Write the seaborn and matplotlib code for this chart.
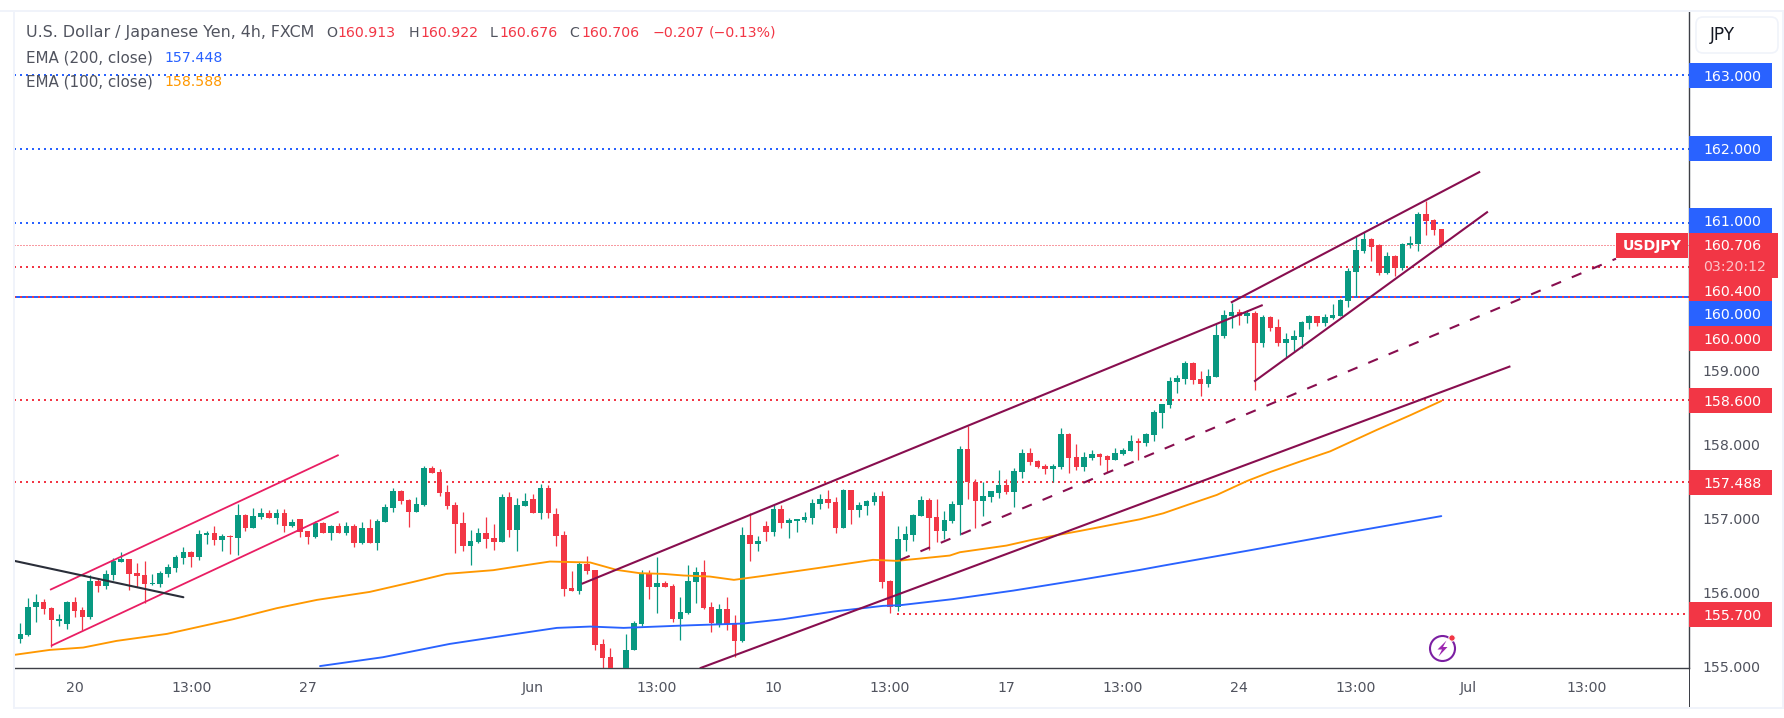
import numpy as np
import pandas as pd
import matplotlib
matplotlib.use("Agg")
import matplotlib.pyplot as plt
from matplotlib.patches import Rectangle, FancyBboxPatch, Circle, Polygon
import seaborn as sns

# ==================================================
# 1. DATA
# ==================================================
opens = [
    155.256, 155.373, 155.423, 155.793, 155.869, 155.788, 155.612, 155.576, 155.869, 155.761,
    155.666, 156.153, 156.09, 156.239, 156.415, 156.447, 156.257, 156.23, 156.117, 156.117,
    156.253, 156.334, 156.469, 156.541, 156.483, 156.78, 156.798, 156.713, 156.767, 156.74,
    157.042, 156.875, 157.019, 157.069, 157.01, 157.069, 156.902, 156.988, 156.83, 156.753,
    156.934, 156.807, 156.898, 156.807, 156.898, 156.672, 156.871, 156.672, 156.956, 157.146,
    157.367, 157.245, 157.092, 157.182, 157.682, 157.628, 157.358, 157.182, 156.934, 156.632,
    156.681, 156.798, 156.731, 156.686, 157.29, 156.848, 157.173, 157.263, 157.078, 157.412,
    157.06, 156.776, 156.059, 156.023, 156.383, 156.302, 155.301, 155.125, 154.814, 154.904,
    155.211, 155.576, 156.248, 156.072, 156.126, 156.086, 155.639, 155.725, 156.14, 156.275,
    155.802, 155.576, 155.775, 155.572, 155.342, 156.776, 156.654, 156.898, 156.816, 157.128,
    156.938, 156.965, 156.979, 157.006, 157.195, 157.263, 157.222, 156.871, 157.385, 157.114,
    157.168, 157.222, 157.304, 156.153, 155.802, 156.708, 156.776, 157.033, 157.249, 157.019,
    156.83, 156.965, 157.182, 157.939, 157.497, 157.24, 157.294, 157.349, 157.452, 157.362,
    157.633, 157.885, 157.777, 157.709, 157.669, 157.696, 158.142, 157.831, 157.696, 157.818,
    157.872, 157.845, 157.791, 157.872, 157.912, 158.048, 158.021, 158.129, 158.427, 158.535,
    158.846, 158.887, 159.103, 158.887, 158.819, 158.914, 159.469, 159.739, 159.794, 159.739,
    159.78, 159.374, 159.726, 159.591, 159.374, 159.415, 159.455, 159.645, 159.739, 159.645,
    159.712, 159.739, 159.942, 160.335, 160.619, 160.781, 160.696, 160.321, 160.551, 160.389,
    160.70, 160.714, 161.12, 161.038, 160.913,
]
closes = [
    155.378, 155.436, 155.802, 155.869, 155.775, 155.617, 155.639, 155.869, 155.752, 155.671,
    156.153, 156.086, 156.248, 156.424, 156.447, 156.253, 156.226, 156.117, 156.126, 156.257,
    156.338, 156.474, 156.541, 156.483, 156.789, 156.798, 156.713, 156.758, 156.753, 157.046,
    156.875, 157.033, 157.069, 157.01, 157.069, 156.902, 156.947, 156.821, 156.753, 156.938,
    156.807, 156.898, 156.807, 156.898, 156.672, 156.871, 156.672, 156.961, 157.155, 157.371,
    157.24, 157.092, 157.195, 157.682, 157.615, 157.349, 157.173, 156.929, 156.632, 156.69,
    156.798, 156.726, 156.686, 157.29, 156.848, 157.182, 157.236, 157.074, 157.412, 157.069,
    156.767, 156.05, 156.023, 156.383, 156.293, 155.292, 155.116, 154.904, 154.927, 155.22,
    155.581, 156.248, 156.072, 156.126, 156.072, 155.639, 155.734, 156.153, 156.275, 155.788,
    155.585, 155.775, 155.563, 155.342, 156.776, 156.659, 156.695, 156.816, 157.128, 156.938,
    156.979, 156.992, 157.019, 157.209, 157.263, 157.209, 156.871, 157.385, 157.114, 157.182,
    157.236, 157.304, 156.144, 155.793, 156.722, 156.789, 157.046, 157.249, 157.006, 156.83,
    156.979, 157.195, 157.939, 157.488, 157.24, 157.304, 157.371, 157.452, 157.358, 157.642,
    157.885, 157.764, 157.696, 157.669, 157.709, 158.142, 157.818, 157.696, 157.831, 157.872,
    157.831, 157.791, 157.885, 157.926, 158.048, 158.025, 158.142, 158.44, 158.548, 158.859,
    158.9, 159.103, 158.873, 158.819, 158.927, 159.482, 159.753, 159.794, 159.739, 159.78,
    159.374, 159.726, 159.577, 159.374, 159.428, 159.469, 159.658, 159.739, 159.645, 159.726,
    159.753, 159.956, 160.348, 160.632, 160.781, 160.673, 160.321, 160.551, 160.389, 160.714,
    160.727, 161.12, 161.025, 160.903, 160.706,
]
highs = [
    155.378, 155.581, 155.923, 155.978, 155.91, 155.797, 155.707, 155.883, 155.937, 155.802,
    156.23, 156.19, 156.302, 156.46, 156.546, 156.451, 156.392, 156.42, 156.244, 156.284,
    156.379, 156.501, 156.609, 156.555, 156.843, 156.825, 156.898, 156.785, 156.776, 157.195,
    157.055, 157.141, 157.141, 157.114, 157.128, 157.128, 156.988, 156.988, 156.834, 156.965,
    156.947, 156.911, 156.934, 156.952, 156.92, 156.952, 156.992, 156.988, 157.191, 157.407,
    157.38, 157.258, 157.29, 157.709, 157.709, 157.664, 157.448, 157.222, 157.087, 156.843,
    156.866, 157.019, 156.92, 157.331, 157.353, 157.276, 157.344, 157.326, 157.466, 157.448,
    157.141, 156.825, 156.289, 156.411, 156.492, 156.302, 155.364, 155.242, 154.949, 155.436,
    155.608, 156.302, 156.302, 156.478, 156.153, 156.113, 155.941, 156.37, 156.343, 156.438,
    155.869, 155.842, 155.937, 155.693, 156.884, 157.069, 156.762, 156.965, 157.182, 157.177,
    157.001, 156.992, 157.087, 157.263, 157.331, 157.385, 157.29, 157.398, 157.385, 157.222,
    157.249, 157.358, 157.371, 156.167, 156.898, 156.898, 157.06, 157.304, 157.272, 157.263,
    157.101, 157.236, 157.98, 158.255, 157.529, 157.497, 157.371, 157.655, 157.534, 157.682,
    157.939, 157.953, 157.791, 157.736, 157.736, 158.224, 158.156, 158.007, 157.899, 157.926,
    157.885, 157.858, 157.953, 157.953, 158.129, 158.088, 158.156, 158.467, 158.548, 158.914,
    158.941, 159.13, 159.117, 158.995, 159.022, 159.631, 159.821, 159.915, 159.834, 159.821,
    159.807, 159.753, 159.739, 159.699, 159.509, 159.55, 159.672, 159.753, 159.739, 159.766,
    159.902, 159.969, 160.389, 160.822, 160.876, 160.795, 160.714, 160.605, 160.565, 160.727,
    160.822, 161.147, 161.291, 161.052, 160.922,
]
lows = [
    155.256, 155.31, 155.409, 155.603, 155.711, 155.256, 155.545, 155.504, 155.671, 155.486,
    155.644, 155.996, 156.05, 156.167, 156.402, 156.036, 156.077, 155.86, 156.104, 156.072,
    156.212, 156.28, 156.388, 156.347, 156.442, 156.659, 156.645, 156.564, 156.523, 156.51,
    156.834, 156.875, 156.997, 157.001, 156.929, 156.821, 156.889, 156.753, 156.659, 156.74,
    156.807, 156.713, 156.807, 156.78, 156.618, 156.659, 156.663, 156.577, 156.956, 157.092,
    157.2, 156.889, 157.092, 157.173, 157.615, 157.308, 157.132, 156.537, 156.564, 156.374,
    156.672, 156.604, 156.573, 156.686, 156.753, 156.564, 157.168, 157.069, 156.997, 157.01,
    156.632, 155.955, 156.023, 155.982, 156.253, 155.211, 154.904, 154.859, 154.791, 154.859,
    155.211, 155.536, 155.91, 155.721, 156.072, 155.59, 155.355, 155.707, 155.856, 155.775,
    155.463, 155.531, 155.49, 155.121, 155.328, 156.424, 156.559, 156.695, 156.762, 156.871,
    156.735, 156.816, 156.952, 156.925, 157.128, 157.141, 156.803, 156.871, 156.925, 157.019,
    157.046, 157.182, 156.059, 155.725, 155.752, 156.559, 156.695, 157.033, 156.573, 156.681,
    156.722, 156.938, 156.776, 157.263, 156.871, 157.033, 157.222, 157.276, 157.331, 157.155,
    157.547, 157.723, 157.682, 157.601, 157.493, 157.669, 157.615, 157.655, 157.642, 157.791,
    157.723, 157.628, 157.791, 157.858, 157.912, 157.791, 157.98, 158.048, 158.224, 158.494,
    158.697, 158.819, 158.819, 158.657, 158.778, 158.914, 159.442, 159.577, 159.618, 159.645,
    158.738, 159.32, 159.536, 159.334, 159.185, 159.266, 159.306, 159.564, 159.604, 159.604,
    159.699, 159.739, 159.861, 160.01, 160.592, 160.484, 160.294, 160.308, 160.281, 160.362,
    160.66, 160.619, 160.835, 160.835, 160.676,
]

# EMA lines: bar number / value pairs
ema100_x = [-0.77, 3.8, 8.1, 12.4, 18.9, 27.4, 33, 38.2, 45, 50.6, 54.9, 60.9, 63.9, 68.2, 73.4,
            76.8, 79.8, 82.8, 85.4, 88.8, 91.9, 95.7, 102.6, 106.9, 109.8, 112.9, 119.7, 121, 127,
            130.4, 136.5, 144.2, 147.2, 150.3, 154.1, 158, 161, 164.8, 168.7, 174.7, 179, 183]
ema100_y = [155.152, 155.219, 155.251, 155.341, 155.436, 155.634, 155.783, 155.896, 156.004,
            156.139, 156.248, 156.298, 156.347, 156.415, 156.402, 156.302, 156.257, 156.248,
            156.226, 156.212, 156.167, 156.221, 156.325, 156.392, 156.438, 156.424, 156.496,
            156.541, 156.631, 156.712, 156.83, 156.987, 157.068, 157.181, 157.317, 157.506,
            157.628, 157.768, 157.907, 158.197, 158.395, 158.588]
ema200_x = [38.6, 46.7, 55.3, 63, 69.1, 73.4, 77.7, 85.4, 93.1, 98.2, 104.7, 111.1, 113.3, 120,
            127.9, 136.5, 144.2, 147.2, 158.5, 170, 183]
ema200_y = [155.0, 155.12, 155.3, 155.422, 155.517, 155.535, 155.517, 155.549, 155.576, 155.634,
            155.738, 155.815, 155.824, 155.905, 156.022, 156.167, 156.302, 156.36, 156.57,
            156.79, 157.03]

x_tick_pos = [7, 22, 37, 66, 82, 97, 112, 127, 142, 157, 172, 186.5, 201.7]
x_tick_labels = ["20", "13:00", "27", "Jun", "13:00", "10", "13:00", "17", "13:00", "24", "13:00", "Jul", "13:00"]
y_ticks = [155, 156, 157, 158, 159]

blue_levels = [163.0, 162.0, 161.0]
red_levels = [160.4, 158.6, 157.488]

# trend lines: bar0, price0, bar1, price1
pink_lines = [(3.83, 156.032, 41, 157.858), (3.95, 155.274, 41, 157.092)]
black_line = (-0.77, 156.424, 21, 155.932)
maroon_lines = [(72.3, 156.113, 160, 159.887), (155.9, 159.92, 188, 161.692),
                (158.9, 158.851, 189, 161.151), (87.5, 154.97, 191.9, 159.058)]
dashed_line = (113.3, 156.437, 205.5, 160.514)

# price tags on the right: text, position, colour
tags = [("163.000", 163.0, "#2962ff"), ("162.000", 162.0, "#2962ff"), ("161.000", 161.031, "#2962ff"),
        ("160.400", 160.09, "#f23645"), ("160.000", 159.766, "#2962ff"), ("160.000", 159.434, "#f23645"),
        ("158.600", 158.6, "#f23645"), ("157.488", 157.488, "#f23645"), ("155.700", 155.7, "#f23645")]

# ==================================================
# 2. FIGURE
# ==================================================
GREEN, RED, BLUE, ORANGE = "#089981", "#f23645", "#2962ff", "#ff9800"
MAROON, PINK = "#880e4f", "#e91e63"
GRAY = "#50535e"
W, H = 1784, 718

sns.set_theme(style="white")
plt.rcParams["font.family"] = ["DejaVu Sans"]
FS = 10.2

fig = plt.figure(figsize=(W / 100, H / 100), dpi=100, facecolor="white")
ax = fig.add_axes([14.3 / W, 1 - 668.3 / H, (1689 - 14.3) / W, (668.3 - 12) / H])
ax.set_facecolor("white")


def px_rect(x0, y0, x1, y1, color, z=1):
    fig.add_artist(Rectangle((x0 / W, 1 - y1 / H), (x1 - x0) / W, (y1 - y0) / H,
                             transform=fig.transFigure, fc=color, ec="none", zorder=z))


def px_text(x, y, s, color=GRAY, ha="left", size=FS, **kw):
    fig.text(x / W, 1 - y / H, s, color=color, ha=ha, va="center", fontsize=size, zorder=6, **kw)


# frame strips around the pane
px_rect(0, 10, W, 12, "#f0f3fa")
px_rect(13, 10, 15, 708.5, "#f0f3fa")
px_rect(13, 707, W, 709, "#f0f3fa")
px_rect(1782, 10, W, 709, "#f0f3fa")

# ==================================================
# 3. CANDLES
# ==================================================
df = pd.DataFrame({"open": opens, "high": highs, "low": lows, "close": closes})
df["bar"] = np.arange(len(df)) - 1
df["color"] = np.where(df["close"] >= df["open"], GREEN, RED)

ax.vlines(df["bar"], df["low"], df["high"], colors=df["color"], lw=0.9, zorder=2)
ax.bar(df["bar"], (df["close"] - df["open"]).abs(), bottom=df[["open", "close"]].min(axis=1),
       width=0.72, color=df["color"], linewidth=0, zorder=3)

# ==================================================
# 4. EMAS AND DRAWINGS
# ==================================================
sns.lineplot(x=ema100_x, y=ema100_y, color=ORANGE, lw=1.35, ax=ax, estimator=None, sort=False, zorder=4)
sns.lineplot(x=ema200_x, y=ema200_y, color=BLUE, lw=1.35, ax=ax, estimator=None, sort=False, zorder=4)

dots = (0, (1, 2))
for lvl in blue_levels:
    ax.axhline(lvl, color=BLUE, lw=1.44, ls=dots, zorder=1)
for lvl in red_levels:
    ax.axhline(lvl, color=RED, lw=1.44, ls=dots, zorder=1)
ax.hlines(155.7, 112.9, 214.9, color=RED, lw=1.44, ls=dots, zorder=1)
ax.axhline(closes[-1], color=RED, lw=0.72, ls=dots, zorder=1)
ax.axhline(160.0, color=BLUE, lw=1.44, zorder=1)
ax.axhline(160.0, color=RED, lw=1.44, ls=dots, zorder=1)

for x0, y0, x1, y1 in pink_lines:
    ax.plot([x0, x1], [y0, y1], color=PINK, lw=1.3, zorder=5, solid_capstyle="butt")
ax.plot(black_line[0::2], black_line[1::2], color="#2a2e39", lw=1.5, zorder=5)
for x0, y0, x1, y1 in maroon_lines:
    ax.plot([x0, x1], [y0, y1], color=MAROON, lw=1.5, zorder=5, solid_capstyle="butt")
ax.plot(dashed_line[0::2], dashed_line[1::2], color=MAROON, lw=1.5, ls=(0, (5, 5.6)), zorder=5)

# ==================================================
# 5. AXES
# ==================================================
ax.set_xlim(-0.773, 214.9)
ax.set_ylim(154.97, 163.853)
ax.set_xticks(x_tick_pos)
ax.set_xticklabels(x_tick_labels)
ax.set_yticks(y_ticks)
ax.set_yticklabels([f"{v:.3f}" for v in y_ticks])
ax.yaxis.tick_right()
ax.tick_params(axis="x", length=0, pad=9.5, labelsize=FS, labelcolor=GRAY)
ax.tick_params(axis="y", length=0, pad=10, labelsize=FS, labelcolor=GRAY)
ax.grid(False)
for side in ["top", "left"]:
    ax.spines[side].set_visible(False)
for side in ["bottom", "right"]:
    ax.spines[side].set_color("#3d3f47")
    ax.spines[side].set_linewidth(1.0)
px_rect(1688.5, 668, 1689.8, 707, "#3d3f47")

# price tags
ytrans = ax.get_yaxis_transform()
frac = 82.7 / 1674.7
for txt, pos, col in tags:
    ax.add_patch(Rectangle((1.0, pos - 0.169), frac, 0.338, transform=ytrans, fc=col, ec="none",
                           clip_on=False, zorder=7))
    ax.text(1.0085, pos, txt, transform=ytrans, color="white", fontsize=FS, va="center_baseline", zorder=8)

# current price tag with the countdown and the symbol tag
px_rect(1689, 233, 1777.7, 277.7, RED, z=3)
px_rect(1616, 233, 1688, 257.7, RED, z=3)
px_text(1703, 246, f"{closes[-1]:.3f}", color="white")
px_text(1703, 267, "03:20:12", color="#fbc4c9")
px_text(1652, 246, "USDJPY", color="white", ha="center", fontweight="bold")

# currency button
fig.add_artist(FancyBboxPatch((1696 / W, 1 - 53 / H), 82 / W, 36 / H, boxstyle="round,pad=0,rounding_size=0.004",
                              mutation_aspect=W / H, transform=fig.transFigure, fc="white", ec="#f0f3fa", lw=1.2, zorder=3))
px_text(1722, 35.5, "JPY", color="#131722", ha="center", size=12.2)

# ==================================================
# 6. LEGEND TEXT
# ==================================================
px_text(26.5, 32.7, "U.S. Dollar / Japanese Yen, 4h, FXCM", size=11.4)
for lx, letter, vx, val in [(326, "O", 337.5, "160.913"), (408.5, "H", 420, "160.922"),
                            (490, "L", 499.5, "160.676"), (569, "C", 581, "160.706")]:
    px_text(lx, 32.7, letter)
    px_text(vx, 32.7, val, color=RED)
px_text(652, 32.7, "\u22120.207", color=RED)
px_text(709, 32.7, "(\u22120.13%)", color=RED)
px_text(26.5, 57.7, "EMA (200, close)", size=10.9)
px_text(164.5, 57.7, "157.448", color=BLUE)
px_text(26.5, 82.3, "EMA (100, close)", size=10.9)
px_text(164.5, 82.3, "158.588", color=ORANGE)

# ==================================================
# 7. BADGE
# ==================================================
cx, cy, r = 1442.5, 648.5, 12.5
inch = fig.dpi_scale_trans
fig.add_artist(Circle((cx / 100, (H - cy) / 100), r / 100, transform=inch, fc="white", ec="#7b1fa2", lw=1.5, zorder=3))
bolt = [(cx + 4, cy - 8), (cx - 5, cy + 1), (cx - 0.5, cy + 1), (cx - 4, cy + 8), (cx + 5, cy - 1.5), (cx + 0.5, cy - 1.5)]
fig.add_artist(Polygon([(x / 100, (H - y) / 100) for x, y in bolt], transform=inch, fc="#9c27b0", ec="none", zorder=4))
fig.add_artist(Circle((1452 / 100, (H - 638) / 100), 3.2 / 100, transform=inch, fc=RED, ec="white", lw=0.7, zorder=5))

fig.savefig("out.png", dpi=100, facecolor="white")
